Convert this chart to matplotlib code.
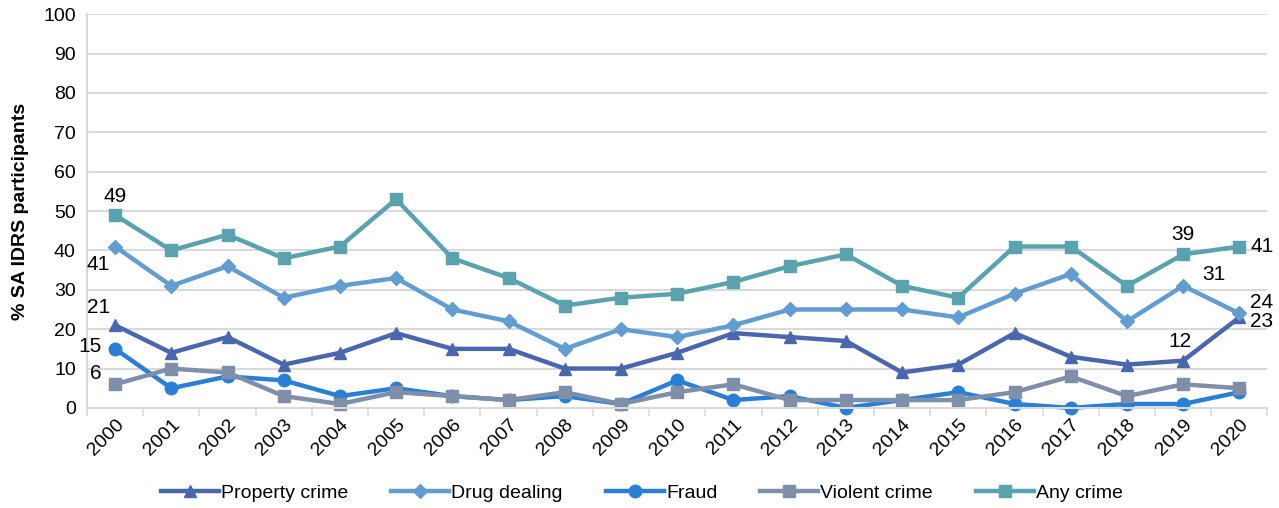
import matplotlib.pyplot as plt
import numpy as np

plt.rcParams['font.family'] = ['Liberation Sans', 'DejaVu Sans']

years = [str(y) for y in range(2000, 2021)]
property_crime = [21, 14, 18, 11, 14, 19, 15, 15, 10, 10, 14, 19, 18, 17, 9, 11, 19, 13, 11, 12, 23]
drug_dealing = [41, 31, 36, 28, 31, 33, 25, 22, 15, 20, 18, 21, 25, 25, 25, 23, 29, 34, 22, 31, 24]
fraud = [15, 5, 8, 7, 3, 5, 3, 2, 3, 1, 7, 2, 3, 0, 2, 4, 1, 0, 1, 1, 4]
violent_crime = [6, 10, 9, 3, 1, 4, 3, 2, 4, 1, 4, 6, 2, 2, 2, 2, 4, 8, 3, 6, 5]
any_crime = [49, 40, 44, 38, 41, 53, 38, 33, 26, 28, 29, 32, 36, 39, 31, 28, 41, 41, 31, 39, 41]

fig = plt.figure(figsize=(12.79, 5.08), dpi=100)
ax = fig.add_axes([0.068, 0.197, 0.923, 0.775])
x = np.arange(len(years))

series = [
    ('Property crime', property_crime, '#4a66ac', '^'),
    ('Drug dealing', drug_dealing, '#629dd1', 'D'),
    ('Fraud', fraud, '#297fd5', 'o'),
    ('Violent crime', violent_crime, '#7f8fa9', 's'),
    ('Any crime', any_crime, '#5aa2ae', 's'),
]
for name, vals, col, mk in series:
    ms = 7 if mk == 'D' else 9
    ax.plot(x, vals, color=col, lw=3.2, marker=mk, markersize=ms, label=name, clip_on=False)

fs = 15
def lab(i, vals, dx, dy, ha='center', va='center'):
    ax.annotate(str(vals[i]), (x[i], vals[i]), xytext=(dx, dy), textcoords='offset points',
                ha=ha, va=va, fontsize=fs)

lab(0, any_crime, 0, 13)
lab(0, drug_dealing, -12, -13)
lab(0, property_crime, -12, 13)
lab(0, fraud, -10, 2, ha='right')
lab(0, violent_crime, -10, 8, ha='right')
lab(19, any_crime, 0, 14)
lab(19, property_crime, -2, 14)
lab(19, drug_dealing, 14, 8, ha='left')
lab(20, any_crime, 8, 0, ha='left')
lab(20, drug_dealing, 8, 8, ha='left')
lab(20, property_crime, 8, -3, ha='left')

ax.set_xlim(-0.5, len(years) - 0.5)
ax.set_ylim(0, 100)
ax.set_yticks(range(0, 101, 10))
ax.set_xticks(x)
ax.set_xticklabels(years, rotation=45, ha='right', rotation_mode='anchor', fontsize=14)
ax.tick_params(axis='y', labelsize=14, length=0, pad=8)
ax.set_xticks(np.arange(-0.5, len(years)), minor=True)
ax.tick_params(axis='x', which='major', length=0, pad=6)
ax.tick_params(axis='x', which='minor', length=6, color='#d9d9d9', width=1.2)
ax.grid(axis='y', color='#d9d9d9', lw=1.5)
ax.set_axisbelow(True)
for s in ['top', 'right']:
    ax.spines[s].set_visible(False)
ax.spines['left'].set_color('#d9d9d9')
ax.spines['left'].set_linewidth(1.5)
ax.spines['bottom'].set_color('#d9d9d9')
ax.spines['bottom'].set_linewidth(1.5)
ax.set_ylabel('% SA IDRS participants', fontsize=14, fontweight='bold', labelpad=10)

ax.legend(loc='upper center', bbox_to_anchor=(0.47, -0.15), ncol=5, frameon=False,
          fontsize=14, handlelength=3, columnspacing=2.2, handletextpad=0.1)

fig.savefig('out.png', dpi=100)
